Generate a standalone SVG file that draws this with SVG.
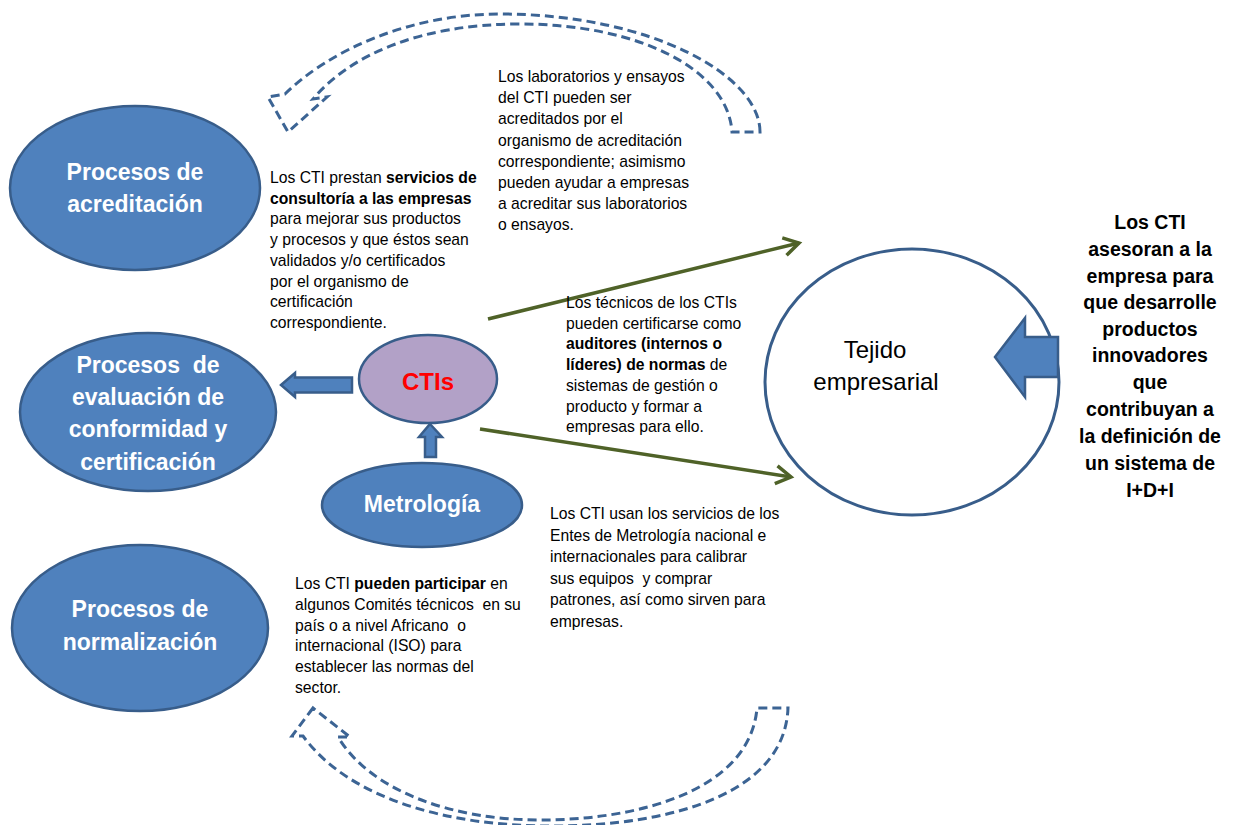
<svg xmlns="http://www.w3.org/2000/svg" width="1233" height="825" viewBox="0 0 1233 825">
  <style>
    .blue { fill: #4F81BD; stroke: #385D8A; stroke-width: 2.5; }
    .lbl { font-family: "Liberation Sans", Arial, sans-serif; font-weight: bold; font-size: 23px; fill: #FFFFFF; text-anchor: middle; }
    .body { font-family: "Liberation Sans", Arial, sans-serif; font-size: 15.7px; fill: #000000; }
    .b { font-weight: bold; }
    .pre { white-space: pre; }
    .side { font-family: "Liberation Sans", Arial, sans-serif; font-weight: bold; font-size: 19.5px; fill: #000000; text-anchor: middle; }
    .dash { fill: none; stroke: #3C6494; stroke-width: 3; stroke-dasharray: 9 5; stroke-linejoin: miter; }
    .green { fill: none; stroke: #4F6228; stroke-width: 3.5; }
  </style>
  <defs>
    <marker id="chevron" markerUnits="userSpaceOnUse" markerWidth="24" markerHeight="24" viewBox="-18 -12 24 24" refX="0" refY="0" orient="auto">
      <path d="M-15,-9 L0,0 L-15,9" fill="none" stroke="#4F6228" stroke-width="3.5" stroke-linejoin="miter"/>
    </marker>
  </defs>

  <rect width="1233" height="825" fill="#FFFFFF"/>

  <!-- nodes -->
  <g id="acreditacion">
    <ellipse class="blue" cx="135" cy="188" rx="125" ry="82"/>
    <text class="lbl" x="135" y="180">Procesos de</text>
    <text class="lbl" x="135" y="212">acreditación</text>
  </g>

  <g id="evaluacion">
    <ellipse class="blue" cx="148" cy="412" rx="128" ry="79"/>
    <text class="lbl pre" x="148" y="373">Procesos  de</text>
    <text class="lbl" x="148" y="405">evaluación de</text>
    <text class="lbl" x="148" y="437">conformidad y</text>
    <text class="lbl" x="148" y="470">certificación</text>
  </g>

  <g id="normalizacion">
    <ellipse class="blue" cx="140" cy="628" rx="128" ry="83"/>
    <text class="lbl" x="140" y="617">Procesos de</text>
    <text class="lbl" x="140" y="650">normalización</text>
  </g>

  <g id="ctis">
    <ellipse cx="428" cy="379" rx="69" ry="44" fill="#B2A1C7" stroke="#385D8A" stroke-width="2.5"/>
    <text x="428" y="390" font-family="Liberation Sans, Arial, sans-serif" font-weight="bold" font-size="24" fill="#FF0000" text-anchor="middle">CTIs</text>
  </g>

  <g id="metrologia">
    <ellipse class="blue" cx="422" cy="505" rx="100" ry="42"/>
    <text class="lbl" x="422" y="512" font-size="19">Metrología</text>
  </g>

  <g id="tejido">
    <ellipse cx="912" cy="382" rx="147" ry="133" fill="#FFFFFF" stroke="#385D8A" stroke-width="3"/>
    <text x="875" y="358" font-family="Liberation Sans, Arial, sans-serif" font-size="24" fill="#000000" text-anchor="middle">Tejido</text>
    <text x="876" y="390" font-family="Liberation Sans, Arial, sans-serif" font-size="24" fill="#000000" text-anchor="middle">empresarial</text>
  </g>

  <!-- connectors -->
  <g id="connectors">
    <!-- dashed curved arrow, top: right to left -->
    <path class="dash" d="M760,132 C760,75 650,14 500,14 C410,14 330,50 285,94 L268,97 L288,132 L327,97 L313,99 C350,55 420,24 520,24 C640,24 728,70 732,132 Z"/>
    <!-- dashed curved arrow, bottom: right to left, pointing up -->
    <path class="dash" d="M313,708 L292,736 L303,736 C350,800 450,826 550,826 C680,826 785,790 788,708 L757,708 C750,790 640,820 540,820 C450,820 370,790 338,737 L350,737 Z"/>

    <!-- green connectors from CTIs to Tejido empresarial -->
    <line class="green" x1="488" y1="319" x2="799" y2="243" marker-end="url(#chevron)"/>
    <line class="green" x1="480" y1="429" x2="791" y2="477" marker-end="url(#chevron)"/>

    <!-- block arrows -->
    <polygon class="blue" stroke-width="2" points="281,385 295,373 295,377.5 352,377.5 352,392.5 295,392.5 295,397"/>
    <polygon class="blue" stroke-width="2" points="430,424 442,437 436,437 436,457 425,457 425,437 419,437"/>
    <polygon class="blue" stroke-width="2" points="995,357 1025,318 1025,337 1058,337 1058,377 1025,377 1025,397"/>
  </g>

  <!-- annotation texts -->
  <g id="txt-laboratorios" class="body">
    <text x="498" y="82">Los laboratorios y ensayos</text>
    <text x="498" y="103.2">del CTI pueden ser</text>
    <text x="498" y="124.4">acreditados por el</text>
    <text x="498" y="145.6">organismo de acreditación</text>
    <text x="498" y="166.8">correspondiente; asimismo</text>
    <text x="498" y="188">pueden ayudar a empresas</text>
    <text x="498" y="209.2">a acreditar sus laboratorios</text>
    <text x="498" y="230.4">o ensayos.</text>
  </g>

  <g id="txt-consultoria" class="body">
    <text x="270" y="183">Los CTI prestan <tspan class="b">servicios de</tspan></text>
    <text x="270" y="203.7" class="b">consultoría a las empresas</text>
    <text x="270" y="224.4">para mejorar sus productos</text>
    <text x="270" y="245.1">y procesos y que éstos sean</text>
    <text x="270" y="265.8">validados y/o certificados</text>
    <text x="270" y="286.5">por el organismo de</text>
    <text x="270" y="307.2">certificación</text>
    <text x="270" y="328">correspondiente.</text>
  </g>

  <g id="txt-tecnicos" class="body">
    <text x="566" y="308">Los técnicos de los CTIs</text>
    <text x="566" y="328.7">pueden certificarse como</text>
    <text x="566" y="349.4" class="b">auditores (internos o</text>
    <text x="566" y="370.1"><tspan class="b">líderes) de normas</tspan> de</text>
    <text x="566" y="390.8">sistemas de gestión o</text>
    <text x="566" y="411.5">producto y formar a</text>
    <text x="566" y="432.2">empresas para ello.</text>
  </g>

  <g id="txt-metrologia" class="body">
    <text x="550" y="519">Los CTI usan los servicios de los</text>
    <text x="550" y="540.6">Entes de Metrología nacional e</text>
    <text x="550" y="562.2">internacionales para calibrar</text>
    <text x="550" y="583.8" class="pre">sus equipos  y comprar</text>
    <text x="550" y="605.4">patrones, así como sirven para</text>
    <text x="550" y="627">empresas.</text>
  </g>

  <g id="txt-normas" class="body">
    <text x="295" y="589">Los CTI <tspan class="b">pueden participar</tspan> en</text>
    <text x="295" y="609.8" class="pre">algunos Comités técnicos  en su</text>
    <text x="295" y="630.6" class="pre">país o a nivel Africano  o</text>
    <text x="295" y="651.4">internacional (ISO) para</text>
    <text x="295" y="672.2">establecer las normas del</text>
    <text x="295" y="693">sector.</text>
  </g>

  <g id="txt-asesoran" class="side">
    <text x="1150" y="229">Los CTI</text>
    <text x="1150" y="256">asesoran a la</text>
    <text x="1150" y="283">empresa para</text>
    <text x="1150" y="309">que desarrolle</text>
    <text x="1150" y="336">productos</text>
    <text x="1150" y="362">innovadores</text>
    <text x="1150" y="389">que</text>
    <text x="1150" y="416">contribuyan a</text>
    <text x="1150" y="443">la definición de</text>
    <text x="1150" y="470">un sistema de</text>
    <text x="1150" y="497">I+D+I</text>
  </g>
</svg>
